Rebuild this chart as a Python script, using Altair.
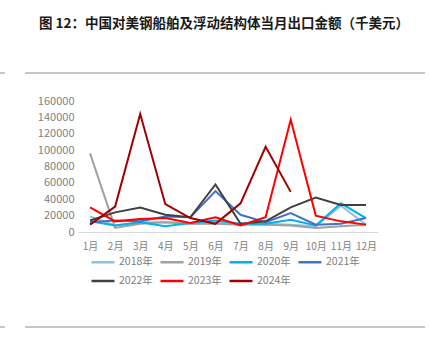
import altair as alt
import pandas as pd

months = ["1月", "2月", "3月", "4月", "5月", "6月", "7月", "8月", "9月", "10月", "11月", "12月"]
years = ["2018年", "2019年", "2020年", "2021年", "2022年", "2023年", "2024年"]
colors = ["#8DC3DC", "#A0A0A0", "#00B0F0", "#4472C4", "#404040", "#FF0000", "#A00000"]

v2018 = [19000, 8000, 12000, 12000, 10000, 11000, 10000, 10000, 9000, 7000, 32000, 9000]
v2019 = [96000, 5000, 10000, 12000, 10000, 10000, 9000, 9000, 8000, 5000, 7000, 9000]
v2020 = [13000, 8000, 12000, 7000, 11000, 14000, 10000, 10000, 15000, 8000, 35000, 17000]
v2021 = [12000, 14000, 13000, 19000, 18000, 50000, 21000, 12000, 23000, 9000, 10000, 17000]
v2022 = [14000, 24000, 30000, 21000, 18000, 58000, 10000, 13000, 30000, 42000, 33000, 33000]
v2023 = [30000, 13000, 16000, 17000, 11000, 18000, 8000, 18000, 137000, 20000, 13000, 9000]
v2024 = [9000, 31000, 144000, 34000, 17000, 10000, 35000, 104000, 49000]

series = [v2018, v2019, v2020, v2021, v2022, v2023, v2024]
rows = []
for y, vals in zip(years, series):
    for m, v in zip(months, vals):
        rows.append({"月份": m, "年份": y, "金额": v})
df = pd.DataFrame(rows)

lines = alt.Chart(df).mark_line(strokeWidth=2).encode(
    x=alt.X("月份:O", sort=months, scale=alt.Scale(type="point", padding=0.48),
            axis=alt.Axis(title=None, labelAngle=0, ticks=False, domainColor="#D9D9D9",
                          labelColor="#808080", labelFontSize=10, labelPadding=9,
                          labelFont="Noto Sans CJK SC")),
    y=alt.Y("金额:Q", scale=alt.Scale(domain=[0, 160000]),
            axis=alt.Axis(title=None, values=list(range(0, 160001, 20000)), grid=False,
                          domain=False, ticks=False, labelColor="#808080", labelFontSize=11,
                          labelPadding=4, labelFont="Noto Sans CJK SC", format="d")),
    color=alt.Color("年份:N", sort=years, scale=alt.Scale(domain=years, range=colors),
                    legend=alt.Legend(title=None, orient="none", legendX=12, legendY=148,
                                      direction="horizontal", columns=4,
                                      symbolType="stroke", symbolSize=529,
                                      symbolStrokeWidth=2.5, labelColor="#808080",
                                      labelFontSize=10.5, labelFont="Noto Sans CJK SC",
                                      labelOffset=3, columnPadding=2, rowPadding=0)),
    detail="年份:N",
)

deco = pd.DataFrame({"y": [0]})
top_rule = alt.Chart(deco).mark_rule(color="#8C8C8C", strokeWidth=1).encode(
    x=alt.value(-53), x2=alt.value(347), y=alt.value(-28))
top_rule2 = alt.Chart(deco).mark_rule(color="#8C8C8C", strokeWidth=1).encode(
    x=alt.value(-78), x2=alt.value(-73), y=alt.value(-28))
bot_rule = alt.Chart(deco).mark_rule(color="#8C8C8C", strokeWidth=1).encode(
    x=alt.value(-53), x2=alt.value(347), y=alt.value(226))
bot_rule2 = alt.Chart(deco).mark_rule(color="#8C8C8C", strokeWidth=1).encode(
    x=alt.value(-78), x2=alt.value(-73), y=alt.value(226))

chart = alt.layer(lines, top_rule, top_rule2, bot_rule, bot_rule2).properties(
    width=300, height=131,
    padding={"left": 78, "top": 101, "right": 51, "bottom": 121},
    autosize=alt.AutoSizeParams(type="none"),
    title=alt.TitleParams("图 12：中国对美钢船舶及浮动结构体当月出口金额（千美元）",
                          anchor="middle", dx=-4, offset=42, fontSize=13.5,
                          font="Noto Sans CJK SC", fontWeight="bold", color="#1a1a1a"),
).configure_view(stroke=None)

chart.save("out.html", embed_options={"renderer": "svg", "actions": False})
